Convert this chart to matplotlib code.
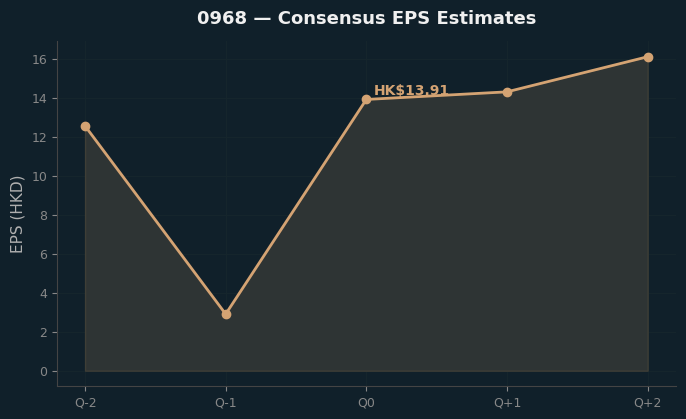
import matplotlib
matplotlib.use("Agg")
import matplotlib.pyplot as plt

quarters = ["Q-2", "Q-1", "Q0", "Q+1", "Q+2"]
eps = [12.55, 2.9, 13.91, 14.3, 16.1]
current_label = "HK$13.91"

bg = "#10202a"
line_c = "#d4a373"

fig = plt.figure(figsize=(6.86, 4.19), dpi=100, facecolor=bg)
ax = fig.add_axes([0.083, 0.078, 0.902, 0.824], facecolor=bg)
x = list(range(len(quarters)))
ax.fill_between(x, eps, 0, facecolor="#2e3434", edgecolor="#3e3e36", linewidth=1, zorder=2)
ax.plot(x, eps, color=line_c, linewidth=2, marker="o", markersize=6, zorder=3)
ax.annotate(current_label, (2, eps[2]), xytext=(5, 3), textcoords="offset points",
            color=line_c, fontsize=10, fontweight="bold")
ax.set_xticks(x)
ax.set_xticklabels(quarters)
ax.set_ylabel("EPS (HKD)", color="#b0b0b0", fontsize=11)
ax.set_title("0968 — Consensus EPS Estimates", color="#f0f0f0", fontsize=13, fontweight="bold", pad=12)
ax.tick_params(colors="#888888", labelsize=9)
ax.grid(True, color="#15252c", linewidth=0.8)
ax.set_axisbelow(True)
for s in ["top", "right"]:
    ax.spines[s].set_visible(False)
for s in ["left", "bottom"]:
    ax.spines[s].set_color("#444444")
fig.savefig("out.png", dpi=100, facecolor=bg)
